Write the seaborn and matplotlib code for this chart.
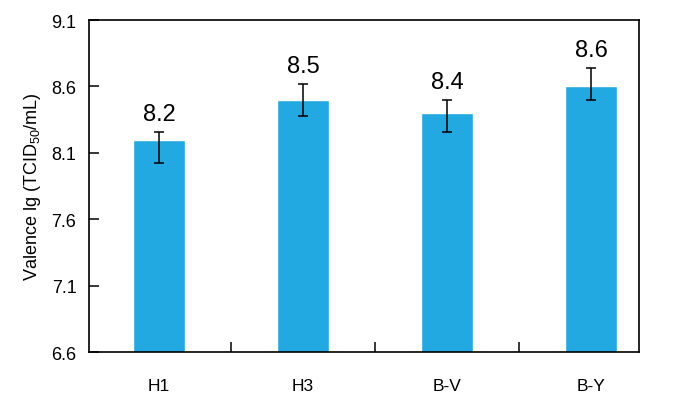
import numpy as np
import pandas as pd
import matplotlib
matplotlib.use('Agg')
import matplotlib.pyplot as plt
import seaborn as sns

# ── Data ──────────────────────────────────────────────────────────────────────
strains = ['H1', 'H3', 'B-V', 'B-Y']
titers = [8.2, 8.5, 8.4, 8.6]
err_low = [0.18, 0.12, 0.14, 0.10]    # distance from bar top down to lower cap
err_high = [0.06, 0.12, 0.10, 0.14]   # distance from bar top up to upper cap
value_labels = ['8.2', '8.5', '8.4', '8.6']
y_ticks = [6.6, 7.1, 7.6, 8.1, 8.6, 9.1]

sns.set_style('white')
plt.rcParams['font.family'] = ['Liberation Sans', 'DejaVu Sans']
plt.rcParams['mathtext.fontset'] = 'custom'
plt.rcParams['mathtext.rm'] = 'Liberation Sans'
plt.rcParams['text.color'] = 'black'
plt.rcParams['axes.labelcolor'] = 'black'
plt.rcParams['xtick.color'] = 'black'
plt.rcParams['ytick.color'] = 'black'

df = pd.DataFrame({'strain': strains, 'titer': titers})

fig = plt.figure(figsize=(6.79, 4.06), dpi=100)
ax = fig.add_axes([89 / 679, 53 / 406, 550 / 679, 332 / 406])

sns.barplot(data=df, x='strain', y='titer', color='#23A9E1', saturation=1,
            width=0.36, ax=ax, errorbar=None)

x = np.arange(len(strains))
ax.errorbar(x, titers, yerr=[err_low, err_high], fmt='none', ecolor='black',
            elinewidth=1.1, capsize=3.5, capthick=1.1)

for xi, t, eh, lab in zip(x, titers, err_high, value_labels):
    ax.annotate(lab, (xi, t + eh), xytext=(0, 5), textcoords='offset points',
                ha='center', va='bottom', fontsize=17, color='black')

ax.set_ylim(6.6, 9.1)
ax.set_yticks(y_ticks)
ax.set_yticklabels([f'{v:.1f}' for v in y_ticks], fontsize=13)
ax.set_xlim(-0.486, 3.33)
ax.set_xticks(x)
ax.set_xticklabels(strains, fontsize=12.5)
ax.set_xticks([0.5, 1.5, 2.5], minor=True)
ax.tick_params(axis='x', which='major', length=0, pad=19)
ax.tick_params(axis='x', which='minor', direction='in', length=7, width=1.1,
               bottom=True)
ax.tick_params(axis='y', direction='in', length=7, width=1.1, left=True, pad=9)
ax.set_xlabel('')
ax.set_ylabel('Valence lg (TCID$_{50}$/mL)', fontsize=13, labelpad=6)

for s in ax.spines.values():
    s.set_visible(True)
    s.set_color('black')
    s.set_linewidth(1.2)

fig.savefig('out.png', dpi=100)
